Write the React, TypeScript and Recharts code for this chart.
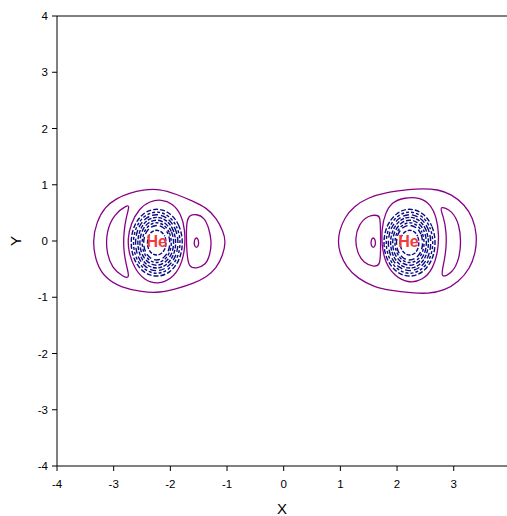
import React from 'react';
import { ComposedChart, Line, Scatter, XAxis, YAxis, ReferenceLine } from 'recharts';

type Pt = [number, number];

const xTicks = [-4, -3, -2, -1, 0, 1, 2, 3];
const yTicks = [-4, -3, -2, -1, 0, 1, 2, 3, 4];

// outer contour around each atom
const leftOuter: Pt[] = [[-3.38, 0.0], [-3.30, 0.34], [-3.16, 0.60], [-2.95, 0.76], [-2.72, 0.85], [-2.49, 0.91], [-2.19, 0.93], [-1.89, 0.83], [-1.60, 0.71], [-1.36, 0.59], [-1.19, 0.41], [-1.07, 0.18], [-1.02, -0.01], [-1.07, -0.25], [-1.19, -0.49], [-1.36, -0.64], [-1.60, -0.76], [-1.89, -0.85], [-2.19, -0.92], [-2.49, -0.91], [-2.89, -0.82], [-3.13, -0.67], [-3.30, -0.43]];
const rightOuter: Pt[] = [[0.96, -0.01], [0.98, 0.17], [1.07, 0.41], [1.24, 0.62], [1.49, 0.77], [1.78, 0.86], [2.25, 0.92], [2.43, 0.93], [2.72, 0.92], [2.96, 0.83], [3.19, 0.65], [3.34, 0.41], [3.41, 0.11], [3.39, -0.19], [3.29, -0.49], [3.08, -0.73], [2.84, -0.88], [2.54, -0.94], [2.25, -0.92], [1.90, -0.88], [1.60, -0.82], [1.31, -0.67], [1.10, -0.46], [0.98, -0.19]];

// ring right around the core
const leftInner: Pt[] = [[-2.70, 0.30], [-2.55, 0.58], [-2.36, 0.71], [-2.16, 0.74], [-1.96, 0.67], [-1.81, 0.48], [-1.74, 0.20], [-1.74, -0.14], [-1.81, -0.44], [-1.98, -0.68], [-2.22, -0.77], [-2.46, -0.70], [-2.64, -0.48], [-2.74, -0.18], [-2.75, 0.05]];
const rightInner: Pt[] = [[1.92, 0.70], [1.79, 0.50], [1.73, 0.22], [1.73, -0.08], [1.79, -0.38], [1.95, -0.62], [2.19, -0.75], [2.46, -0.70], [2.64, -0.48], [2.72, -0.19], [2.74, 0.11], [2.70, 0.41], [2.59, 0.66], [2.39, 0.78], [2.13, 0.77]];

// side lobes
const leftCrescent: Pt[] = [[-2.76, 0.64], [-2.99, 0.48], [-3.13, 0.17], [-3.13, -0.19], [-3.03, -0.48], [-2.83, -0.64], [-2.71, -0.67], [-2.78, -0.43], [-2.83, -0.13], [-2.82, 0.17], [-2.78, 0.42], [-2.72, 0.62]];
const leftD: Pt[] = [[-1.66, 0.46], [-1.54, 0.48], [-1.40, 0.42], [-1.32, 0.23], [-1.27, -0.01], [-1.30, -0.25], [-1.38, -0.43], [-1.54, -0.49], [-1.68, -0.47], [-1.71, -0.19], [-1.72, 0.11], [-1.71, 0.37]];
const leftOval: Pt[] = [[-1.54, 0.07], [-1.50, 0.02], [-1.50, -0.08], [-1.54, -0.13], [-1.58, -0.08], [-1.58, 0.02]];
const rightD: Pt[] = [[1.67, 0.46], [1.49, 0.46], [1.32, 0.29], [1.26, 0.05], [1.29, -0.19], [1.41, -0.40], [1.60, -0.46], [1.70, -0.43], [1.71, -0.19], [1.71, 0.17], [1.70, 0.42]];
const rightOval: Pt[] = [[1.58, 0.07], [1.62, 0.02], [1.62, -0.08], [1.58, -0.13], [1.54, -0.08], [1.54, 0.02]];
const rightCrescent: Pt[] = [[2.73, 0.64], [2.98, 0.54], [3.10, 0.28], [3.13, -0.01], [3.10, -0.31], [2.98, -0.57], [2.76, -0.67], [2.82, -0.43], [2.87, -0.13], [2.87, 0.17], [2.82, 0.44]];

// dense core contours (drawn dashed)
const leftCore: Pt[][] = [
  [[-1.77, -0.03], [-1.83, 0.28], [-2.00, 0.51], [-2.24, 0.59], [-2.48, 0.51], [-2.65, 0.28], [-2.71, -0.03], [-2.65, -0.34], [-2.48, -0.57], [-2.24, -0.65], [-2.00, -0.57], [-1.83, -0.34]],
  [[-1.81, -0.03], [-1.87, 0.26], [-2.03, 0.46], [-2.24, 0.54], [-2.46, 0.46], [-2.61, 0.26], [-2.67, -0.03], [-2.61, -0.32], [-2.46, -0.52], [-2.24, -0.60], [-2.03, -0.52], [-1.87, -0.32]],
  [[-1.85, -0.03], [-1.90, 0.23], [-2.05, 0.42], [-2.24, 0.49], [-2.44, 0.42], [-2.58, 0.23], [-2.63, -0.03], [-2.58, -0.29], [-2.44, -0.48], [-2.24, -0.55], [-2.05, -0.48], [-1.90, -0.29]],
  [[-1.89, -0.03], [-1.94, 0.21], [-2.07, 0.38], [-2.24, 0.44], [-2.42, 0.38], [-2.54, 0.21], [-2.59, -0.03], [-2.54, -0.27], [-2.42, -0.44], [-2.24, -0.50], [-2.07, -0.44], [-1.94, -0.27]],
  [[-1.93, -0.03], [-1.97, 0.18], [-2.09, 0.33], [-2.24, 0.39], [-2.40, 0.33], [-2.51, 0.18], [-2.55, -0.03], [-2.51, -0.24], [-2.40, -0.39], [-2.24, -0.45], [-2.09, -0.39], [-1.97, -0.24]],
  [[-1.97, -0.03], [-2.01, 0.16], [-2.11, 0.29], [-2.24, 0.34], [-2.38, 0.29], [-2.47, 0.16], [-2.51, -0.03], [-2.47, -0.22], [-2.38, -0.35], [-2.24, -0.40], [-2.11, -0.35], [-2.01, -0.22]],
  [[-2.00, -0.03], [-2.03, 0.13], [-2.12, 0.25], [-2.24, 0.29], [-2.36, 0.25], [-2.45, 0.13], [-2.48, -0.03], [-2.45, -0.19], [-2.36, -0.31], [-2.24, -0.35], [-2.12, -0.31], [-2.03, -0.19]],
  [[-2.07, -0.03], [-2.09, 0.09], [-2.16, 0.17], [-2.24, 0.20], [-2.33, 0.17], [-2.39, 0.09], [-2.41, -0.03], [-2.39, -0.15], [-2.33, -0.23], [-2.24, -0.26], [-2.16, -0.23], [-2.09, -0.15]],
];
const rightCore: Pt[][] = [
  [[2.69, -0.03], [2.63, 0.28], [2.46, 0.51], [2.22, 0.59], [1.99, 0.51], [1.81, 0.28], [1.75, -0.03], [1.81, -0.34], [1.99, -0.57], [2.22, -0.65], [2.46, -0.57], [2.63, -0.34]],
  [[2.65, -0.03], [2.59, 0.26], [2.44, 0.46], [2.22, 0.54], [2.01, 0.46], [1.85, 0.26], [1.79, -0.03], [1.85, -0.32], [2.01, -0.52], [2.22, -0.60], [2.44, -0.52], [2.59, -0.32]],
  [[2.61, -0.03], [2.56, 0.23], [2.42, 0.42], [2.22, 0.49], [2.03, 0.42], [1.88, 0.23], [1.83, -0.03], [1.88, -0.29], [2.03, -0.48], [2.22, -0.55], [2.42, -0.48], [2.56, -0.29]],
  [[2.57, -0.03], [2.52, 0.21], [2.40, 0.38], [2.22, 0.44], [2.05, 0.38], [1.92, 0.21], [1.87, -0.03], [1.92, -0.27], [2.05, -0.44], [2.22, -0.50], [2.40, -0.44], [2.52, -0.27]],
  [[2.53, -0.03], [2.49, 0.18], [2.38, 0.33], [2.22, 0.39], [2.07, 0.33], [1.95, 0.18], [1.91, -0.03], [1.95, -0.24], [2.07, -0.39], [2.22, -0.45], [2.38, -0.39], [2.49, -0.24]],
  [[2.49, -0.03], [2.45, 0.16], [2.36, 0.29], [2.22, 0.34], [2.09, 0.29], [1.99, 0.16], [1.95, -0.03], [1.99, -0.22], [2.09, -0.35], [2.22, -0.40], [2.36, -0.35], [2.45, -0.22]],
  [[2.46, -0.03], [2.43, 0.13], [2.34, 0.25], [2.22, 0.29], [2.10, 0.25], [2.01, 0.13], [1.98, -0.03], [2.01, -0.19], [2.10, -0.31], [2.22, -0.35], [2.34, -0.31], [2.43, -0.19]],
  [[2.39, -0.03], [2.37, 0.09], [2.31, 0.17], [2.22, 0.20], [2.14, 0.17], [2.07, 0.09], [2.05, -0.03], [2.07, -0.15], [2.14, -0.23], [2.22, -0.26], [2.31, -0.23], [2.37, -0.15]],
];

const atomLabels = [{ x: -2.24, y: 0.0, name: 'He' }, { x: 2.2, y: 0.0, name: 'He' }];

const purple = '#880088';
const navy = '#0c0c80';
const font = "Arial, 'Liberation Sans', sans-serif";
const dashes = ['5 2', '3 2', '6 3', '4 1.5'];
const toObj = (pts: Pt[]) => pts.map(([x, y]) => ({ x, y }));

const purpleContours = [leftOuter, rightOuter, leftInner, rightInner, leftCrescent, leftD, leftOval, rightD, rightOval, rightCrescent];
const coreContours = [...leftCore, ...rightCore];

const HeLabel = (props: any) => (
  <text x={props.cx} y={props.cy} textAnchor="middle" dominantBaseline="central"
    fill="#f03c3c" fontSize={16} fontWeight="bold" fontFamily={font}>
    {props.payload.name}
  </text>
);

const tickStyle = { fill: '#000', fontSize: 11.5, fontFamily: font };

export default function App() {
  return (
    <div style={{ position: 'absolute', left: 0, top: 0, background: '#fff' }}>
      <ComposedChart width={507} height={516} margin={{ top: 16, right: 0, bottom: 0, left: 12 }}>
        <XAxis type="number" dataKey="x" domain={[-4, 3.94]} ticks={xTicks} allowDataOverflow
          height={50} tick={tickStyle} tickSize={5} tickMargin={9} stroke="#000"
          label={{ value: 'X', position: 'insideBottom', offset: 2, fontSize: 15, fill: '#000', fontFamily: font }} />
        <YAxis type="number" dataKey="y" domain={[-4, 4]} ticks={yTicks} allowDataOverflow
          width={45} tick={tickStyle} tickSize={5} tickMargin={4} stroke="#000"
          label={{ value: 'Y', angle: -90, position: 'center', dx: -19, fontSize: 15, fill: '#000', fontFamily: font }} />
        <ReferenceLine y={4} stroke="#000" />
        {coreContours.map((c, i) => (
          <Line key={'core' + i} data={toObj(c)} dataKey="y" type="basisClosed" stroke={navy}
            strokeWidth={1.4} strokeDasharray={dashes[i % 4]} strokeDashoffset={i * 2}
            dot={false} activeDot={false} isAnimationActive={false} />
        ))}
        {purpleContours.map((c, i) => (
          <Line key={'p' + i} data={toObj(c)} dataKey="y" type="basisClosed" stroke={purple}
            strokeWidth={1.3} dot={false} activeDot={false} isAnimationActive={false} />
        ))}
        <Scatter data={atomLabels} dataKey="y" shape={HeLabel} isAnimationActive={false} />
      </ComposedChart>
    </div>
  );
}
